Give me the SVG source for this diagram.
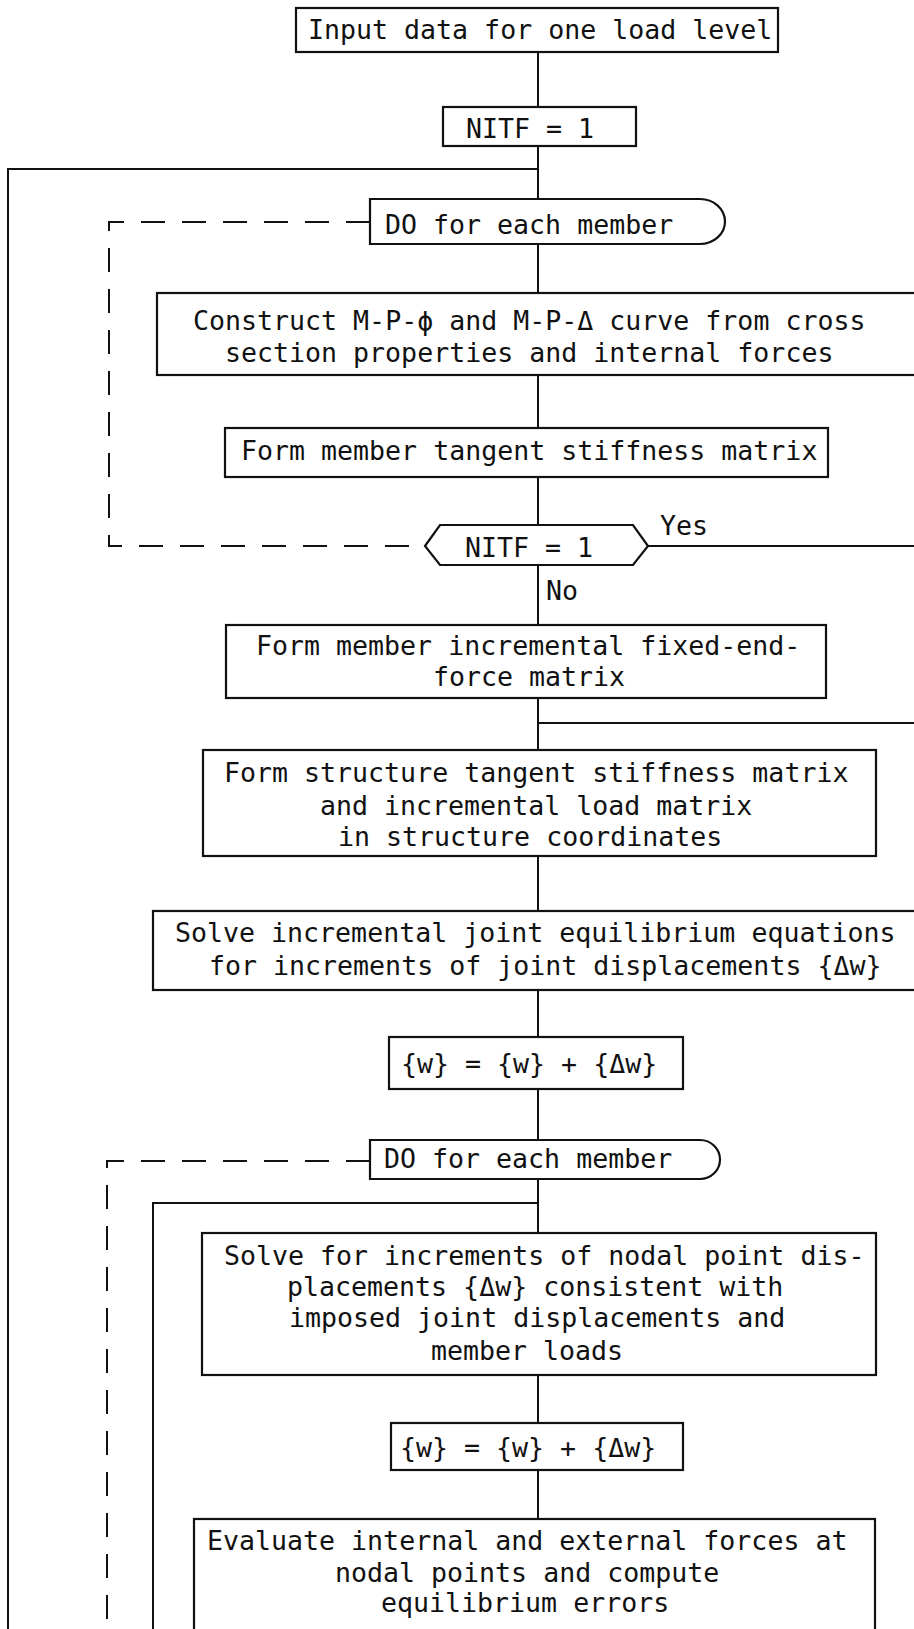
<svg xmlns="http://www.w3.org/2000/svg" width="914" height="1629" viewBox="0 0 914 1629">
<style>
.box{fill:#fff;stroke:#111;stroke-width:2.2}
.ln{fill:none;stroke:#111;stroke-width:2}
.dash{fill:none;stroke:#111;stroke-width:2;stroke-dasharray:24 17}
text{font-family:"DejaVu Sans Mono","Liberation Mono",monospace;font-size:26.6px;fill:#111}
</style>
<rect width="914" height="1629" fill="#fff"/>
<g id="connectors">
<path class="ln" d="M538,52V107M538,146V199M538,169H8V1629M538,244V293M538,375V428M538,477V525M538,565V625M648,546H914M538,698V750M538,723H914M538,856V911M538,990V1037M538,1089V1140M538,1179V1233M538,1203H153V1629M538,1375V1423M538,1470V1519"/>
<path class="dash" d="M370,222H109V546H425"/>
<path class="dash" d="M370,1161H107V1629"/>
<text x="660" y="535">Yes</text>
<text x="546" y="600">No</text>
</g>
<g id="n1"><rect class="box" x="296" y="8" width="482" height="44"/><text x="308" y="39">Input data for one load level</text></g>
<g id="n2"><rect class="box" x="443" y="107" width="193" height="39"/><text x="466" y="138">NITF = 1</text></g>
<g id="n3"><path class="box" d="M370,199H700A25,22.5 0 0 1 700,244H370Z"/><text x="385" y="234">DO for each member</text></g>
<g id="n4"><rect class="box" x="157" y="293" width="780" height="82"/><text x="193" y="330">Construct M-P-ϕ and M-P-Δ curve from cross</text><text x="225" y="362">section properties and internal forces</text></g>
<g id="n5"><rect class="box" x="225" y="428" width="603" height="49"/><text x="241" y="460">Form member tangent stiffness matrix</text></g>
<g id="n6"><path class="box" d="M425,546L440,525H633L648,546L633,565H440Z"/><text x="465" y="557">NITF = 1</text></g>
<g id="n7"><rect class="box" x="226" y="625" width="600" height="73"/><text x="256" y="655">Form member incremental fixed-end-</text><text x="433" y="686">force matrix</text></g>
<g id="n8"><rect class="box" x="203" y="750" width="673" height="106"/><text x="224" y="782">Form structure tangent stiffness matrix</text><text x="320" y="815">and incremental load matrix</text><text x="338" y="846">in structure coordinates</text></g>
<g id="n9"><rect class="box" x="153" y="911" width="784" height="79"/><text x="175" y="942">Solve incremental joint equilibrium equations</text><text x="209" y="975">for increments of joint displacements {Δw}</text></g>
<g id="n10"><rect class="box" x="389" y="1037" width="294" height="52"/><text x="401" y="1073">{w} = {w} + {Δw}</text></g>
<g id="n11"><path class="box" d="M370,1140H700A20,19.5 0 0 1 700,1179H370Z"/><text x="384" y="1168">DO for each member</text></g>
<g id="n12"><rect class="box" x="202" y="1233" width="674" height="142"/><text x="224" y="1265">Solve for increments of nodal point dis-</text><text x="287" y="1296">placements {Δw} consistent with</text><text x="289" y="1327">imposed joint displacements and</text><text x="431" y="1360">member loads</text></g>
<g id="n13"><rect class="box" x="391" y="1423" width="292" height="47"/><text x="400" y="1457">{w} = {w} + {Δw}</text></g>
<g id="n14"><rect class="box" x="194" y="1519" width="681" height="130"/><text x="207" y="1550">Evaluate internal and external forces at</text><text x="335" y="1582">nodal points and compute</text><text x="381" y="1612">equilibrium errors</text></g>
</svg>
